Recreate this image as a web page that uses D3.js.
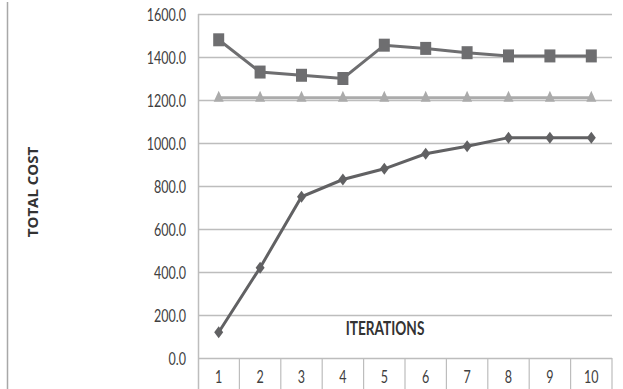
<!DOCTYPE html>
<html><head><meta charset="utf-8">
<script src="https://cdn.jsdelivr.net/npm/d3@7"></script>
<style>body{margin:0;background:#fff}svg{display:block}</style>
</head><body>
<script>
const iterations = ["1","2","3","4","5","6","7","8","9","10"];
const squareSeries = [1480,1330,1315,1300,1455,1440,1420,1405,1405,1405];
const triangleSeries = [1210,1210,1210,1210,1210,1210,1210,1210,1210,1210];
const diamondSeries = [120,420,750,830,880,950,985,1025,1025,1025];
const yTicks = [0,200,400,600,800,1000,1200,1400,1600];

const W=623,H=389;
const svg=d3.select("body").append("svg").attr("width",W).attr("height",H);
const L=198,R=612,T=14,B=358;
const x=d3.scaleBand().domain(iterations).range([L,R]);
const y=d3.scaleLinear().domain([0,1600]).range([B,T]);
const font="Lato,'Open Sans',Arial,sans-serif";
const SX=0.76;

// left border line
svg.append("line").attr("x1",7.5).attr("x2",7.5).attr("y1",2).attr("y2",H).attr("stroke","#a8a8a8").attr("stroke-width",1.5);

// gridlines
svg.append("g").selectAll("line").data(yTicks).join("line")
 .attr("x1",L).attr("x2",R).attr("y1",d=>Math.round(y(d))+0.5).attr("y2",d=>Math.round(y(d))+0.5)
 .attr("stroke","#bdbdbd").attr("stroke-width",1.5);
// left axis line
svg.append("line").attr("x1",L+0.5).attr("x2",L+0.5).attr("y1",T).attr("y2",H).attr("stroke","#bdbdbd").attr("stroke-width",1.5);
// category separators
const seps=iterations.map(d=>x(d)+x.bandwidth());
svg.append("g").selectAll("line").data(seps).join("line")
 .attr("x1",d=>d).attr("x2",d=>d).attr("y1",B).attr("y2",H).attr("stroke","#bdbdbd").attr("stroke-width",1.2);

// y labels
svg.append("g").selectAll("text").data(yTicks).join("text")
 .attr("transform",d=>`translate(186,${y(d)+6.5}) scale(${SX},1)`).attr("text-anchor","end")
 .attr("font-family",font).attr("font-size",16.5).attr("fill","#404040")
 .text(d=>d.toFixed(1));
// x labels
svg.append("g").selectAll("text").data(iterations).join("text")
 .attr("transform",d=>`translate(${x(d)+x.bandwidth()/2},383) scale(${SX},1)`).attr("text-anchor","middle")
 .attr("font-family",font).attr("font-size",16.5).attr("fill","#404040")
 .text(d=>d);

// titles
svg.append("text").attr("transform","translate(38,192) rotate(-90)").attr("text-anchor","middle")
 .attr("font-family","'Open Sans',Arial,sans-serif").attr("font-weight","bold").attr("font-size",15).attr("fill","#333")
 .text("TOTAL COST");
svg.append("text").attr("transform",`translate(385,335) scale(${SX},1)`).attr("text-anchor","middle")
 .attr("font-family",font).attr("font-weight","bold").attr("font-size",18).attr("fill","#333")
 .text("ITERATIONS");

const cx=d=>x(d)+x.bandwidth()/2;
const line=d3.line().x(d=>cx(d[0])).y(d=>y(d[1]));
function series(vals,color,shape){
  const pts=iterations.map((d,i)=>[d,vals[i]]);
  svg.append("path").datum(pts).attr("d",line).attr("fill","none").attr("stroke",color).attr("stroke-width",3);
  svg.append("g").selectAll("path").data(pts).join("path")
   .attr("d",shape)
   .attr("transform",d=>`translate(${cx(d[0])},${y(d[1])})`).attr("fill",color);
}
const square="M-5.5,-6.5H5.5V6.5H-5.5Z";
const diamond="M0,-6L4.5,0L0,6L-4.5,0Z";
const tri="M0,-7L5,4L-5,4Z";
series(triangleSeries,"#ababab",tri);
series(squareSeries,"#6e6e70",square);
series(diamondSeries,"#616163",diamond);
</script>
</body></html>
